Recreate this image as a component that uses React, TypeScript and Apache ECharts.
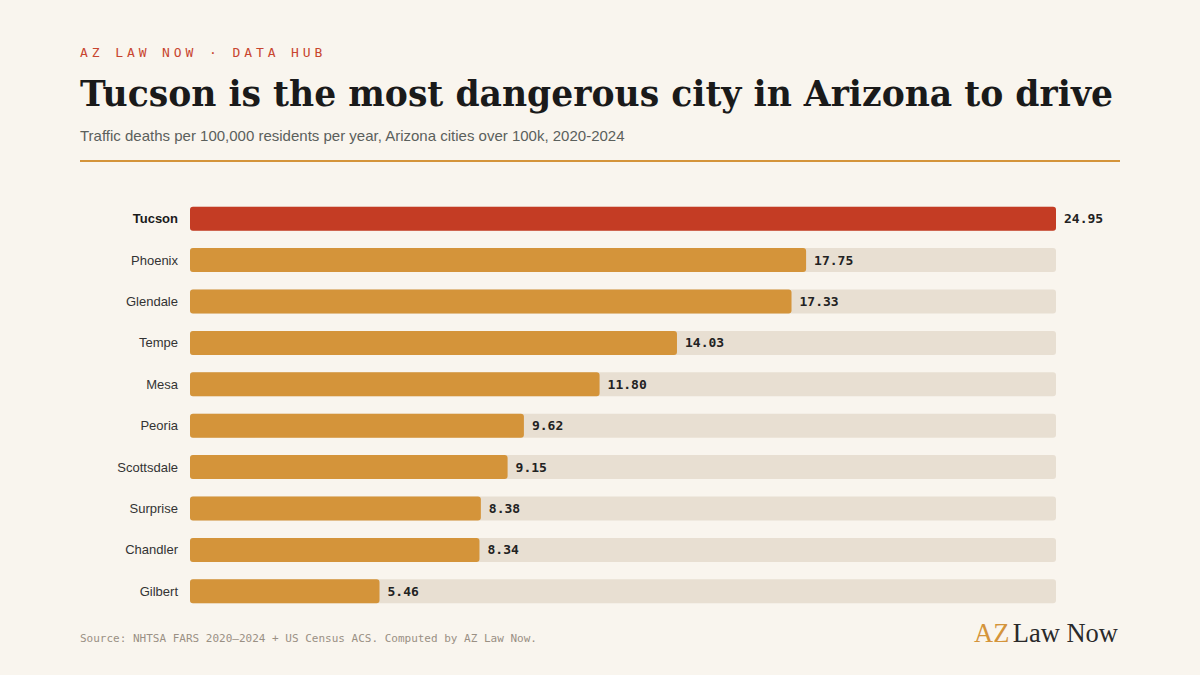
import React, { useEffect, useRef } from "react";
import * as echarts from "echarts";

const cities = ["Tucson", "Phoenix", "Glendale", "Tempe", "Mesa", "Peoria", "Scottsdale", "Surprise", "Chandler", "Gilbert"];
const deathRates = [24.95, 17.75, 17.33, 14.03, 11.8, 9.62, 9.15, 8.38, 8.34, 5.46];
const highlightCity = "Tucson";

const eyebrow = "AZ LAW NOW · DATA HUB";
const titleText = "Tucson is the most dangerous city in Arizona to drive";
const subtitleText = "Traffic deaths per 100,000 residents per year, Arizona cities over 100k, 2020-2024";
const sourceText = "Source: NHTSA FARS 2020–2024 + US Census ACS. Computed by AZ Law Now.";

const BG = "#f9f5ee";
const ORANGE = "#d4943a";
const RED = "#c43c24";
const TRACK = "#e8dfd2";

export default function App() {
  const ref = useRef<HTMLDivElement>(null);
  useEffect(() => {
    if (!ref.current) return;
    const chart = echarts.init(ref.current, null, { renderer: "svg" });
    const maxVal = Math.max(...deathRates);
    chart.setOption({
      animation: false,
      backgroundColor: BG,
      grid: { left: 190, right: 144, top: 198, bottom: 63, containLabel: false },
      xAxis: { type: "value", min: 0, max: maxVal, show: false },
      yAxis: {
        type: "category",
        data: cities,
        inverse: true,
        axisLine: { show: false },
        axisTick: { show: false },
        axisLabel: {
          margin: 12,
          fontFamily: "Liberation Sans, Arial, sans-serif",
          fontSize: 13,
          color: "#333333",
          formatter: (v: string) => (v === highlightCity ? `{b|${v}}` : v),
          rich: { b: { fontWeight: "bold", color: "#1a1a1a", fontSize: 13, fontFamily: "Liberation Sans, Arial, sans-serif" } },
        },
      },
      series: [
        {
          type: "bar",
          data: deathRates.map((v, i) => ({
            value: v,
            itemStyle: { color: cities[i] === highlightCity ? RED : ORANGE },
          })),
          barWidth: 24,
          showBackground: true,
          backgroundStyle: { color: TRACK, borderRadius: 3 },
          itemStyle: { borderRadius: 3 },
          label: {
            show: true,
            position: "right",
            distance: 8,
            formatter: (p: any) => Number(p.value).toFixed(2),
            fontFamily: "DejaVu Sans Mono, monospace",
            fontWeight: "bold",
            fontSize: 13,
            color: "#222222",
          },
        },
      ],
      graphic: [
        {
          type: "text",
          left: 80,
          top: 46,
          id: "eyebrow",
          style: { text: eyebrow, fill: "#c8452f", font: "13px 'DejaVu Sans Mono', monospace" },
        },
        {
          type: "text",
          left: 80,
          top: 76,
          style: { text: titleText, fill: "#1a1a1a", font: "bold 34.6px 'DejaVu Serif', serif" },
        },
        {
          type: "text",
          left: 80,
          top: 128,
          style: { text: subtitleText, fill: "#5b605c", font: "15px 'Liberation Sans', Arial, sans-serif" },
        },
        {
          type: "rect",
          shape: { x: 80, y: 160, width: 1040, height: 2 },
          style: { fill: ORANGE },
        },
        {
          type: "text",
          left: 80,
          top: 633,
          style: { text: sourceText, fill: "#9a9084", font: "11px 'DejaVu Sans Mono', monospace" },
        },
        {
          type: "text",
          right: 82,
          top: 619,
          style: {
            text: "{a|AZ} {b|Law Now}",
            rich: {
              a: { fill: ORANGE, font: "26.5px 'Liberation Serif', serif" },
              b: { fill: "#2a2a2a", font: "26.5px 'Liberation Serif', serif" },
            },
          },
        },
      ],
    });
    const texts = ref.current.querySelectorAll("text");
    texts.forEach((t) => {
      if (t.textContent === eyebrow) t.setAttribute("letter-spacing", "3.9");
    });
    return () => chart.dispose();
  }, []);
  return <div ref={ref} style={{ position: "absolute", left: 0, top: 0, width: 1200, height: 675 }} />;
}
